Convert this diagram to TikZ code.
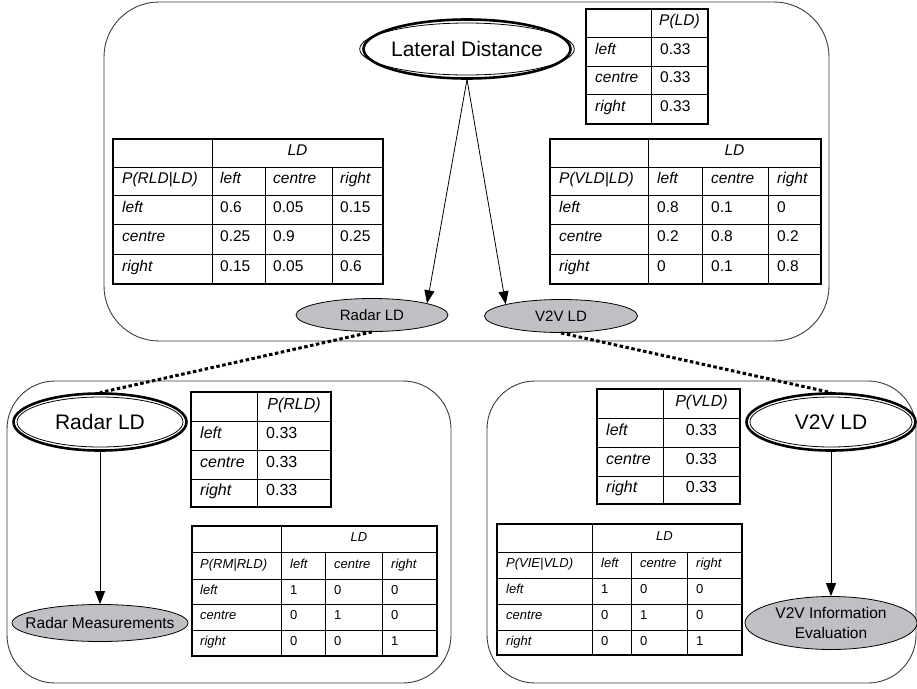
\documentclass[tikz,border=0pt]{standalone}
\usepackage{fontspec}
\setmainfont{Liberation Sans}
\usetikzlibrary{shapes.geometric,arrows.meta}
\definecolor{nodegray}{RGB}{192,192,196}
\definecolor{boxline}{RGB}{60,60,60}
\tikzset{
  panel/.style={draw=boxline, line width=0.9pt},
  bigvar/.style={ellipse, draw, line width=0.8pt, inner sep=0pt, font=\fontsize{21}{25}\selectfont},
  obsvar/.style={ellipse, draw, fill=nodegray, line width=0.8pt, inner sep=0pt},
  edge/.style={line width=0.8pt, -{Triangle[length=13pt,width=10pt]}},
  link/.style={line width=3pt, dash pattern=on 3.5pt off 2.5pt},
  outerring/.style={line width=2.6pt},
  gridline/.style={line width=0.7pt},
  frame/.style={line width=2.6pt},
  lab/.style={anchor=mid west, inner sep=0pt, font=\fontsize{#1}{#1}\selectfont\itshape},
  num/.style={anchor=mid west, inner sep=0pt, font=\fontsize{#1}{#1}\selectfont},
  labc/.style={anchor=mid, inner sep=0pt, font=\fontsize{#1}{#1}\selectfont\itshape},
  numc/.style={anchor=mid, inner sep=0pt, font=\fontsize{#1}{#1}\selectfont},
}
\begin{document}
\begin{tikzpicture}[x=1pt,y=-1pt]
\useasboundingbox (0,0) rectangle (917,688);

% panels
\draw[panel, rounded corners=55pt] (104,2) rectangle (829,341);
\draw[panel, rounded corners=48pt] (7,381) rectangle (451,683);
\draw[panel, rounded corners=48pt] (487,381) rectangle (916,683);

% ---------- T1 : P(LD)
\draw[gridline] (586,37) -- (708,37) (586,66) -- (708,66) (586,94) -- (708,94) (651,9) -- (651,124);
\draw[frame] (586,9) rectangle (708,124);
\node[lab=15.5] (a0) at (659,23) {P(LD)};
\foreach \yy/\t [count=\i] in {51.5/left, 80/centre, 109/right}{
  \node[lab=15.5] (a\i l) at (595,\yy) {\t};
  \node[num=15.5] (a\i v) at (660,\yy) {0.33};
}

% ---------- T2 : P(RLD|LD)
\draw[gridline] (113,167) -- (383,167) (113,195) -- (383,195) (113,224) -- (383,224) (113,254) -- (383,254)
  (212,139) -- (212,284) (265,167) -- (265,284) (332,167) -- (332,284);
\draw[frame] (113,139) rectangle (383,284);
\node[labc=15.5] (b0) at (297.5,153) {LD};
\foreach \xx/\t [count=\i] in {122/P(RLD|LD), 220/left, 273/centre, 340/right}
  \node[lab=15.5] (b1\i) at (\xx,181) {\t};
\node[lab=15.5] (b2l) at (122,209.5) {left};
\foreach \xx/\t [count=\i] in {220/0.6, 273/0.05, 340/0.15}
  \node[num=15.5] (b2\i) at (\xx,209.5) {\t};
\node[lab=15.5] (b3l) at (122,239) {centre};
\foreach \xx/\t [count=\i] in {220/0.25, 273/0.9, 340/0.25}
  \node[num=15.5] (b3\i) at (\xx,239) {\t};
\node[lab=15.5] (b4l) at (122,269) {right};
\foreach \xx/\t [count=\i] in {220/0.15, 273/0.05, 340/0.6}
  \node[num=15.5] (b4\i) at (\xx,269) {\t};

% ---------- T3 : P(VLD|LD)
\draw[gridline] (550,167) -- (821,167) (550,195) -- (821,195) (550,224) -- (821,224) (550,254) -- (821,254)
  (648,139) -- (648,284) (702,167) -- (702,284) (768,167) -- (768,284);
\draw[frame] (550,139) rectangle (821,284);
\node[labc=15.5] (c0) at (734.5,153) {LD};
\foreach \xx/\t [count=\i] in {559/P(VLD|LD), 657/left, 711/centre, 777/right}
  \node[lab=15.5] (c1\i) at (\xx,181) {\t};
\node[lab=15.5] (c2l) at (559,209.5) {left};
\foreach \xx/\t [count=\i] in {657/0.8, 711/0.1, 777/0}
  \node[num=15.5] (c2\i) at (\xx,209.5) {\t};
\node[lab=15.5] (c3l) at (559,239) {centre};
\foreach \xx/\t [count=\i] in {657/0.2, 711/0.8, 777/0.2}
  \node[num=15.5] (c3\i) at (\xx,239) {\t};
\node[lab=15.5] (c4l) at (559,269) {right};
\foreach \xx/\t [count=\i] in {657/0, 711/0.1, 777/0.8}
  \node[num=15.5] (c4\i) at (\xx,269) {\t};

% ---------- T4 : P(RLD)
\draw[gridline] (191,421) -- (331,421) (191,450) -- (331,450) (191,479) -- (331,479) (257,392) -- (257,507);
\draw[frame] (191,392) rectangle (331,507);
\node[labc=16] (d0) at (294,406.5) {P(RLD)};
\foreach \yy/\t [count=\i] in {435.5/left, 464.5/centre, 493/right}{
  \node[lab=16] (d\i l) at (200,\yy) {\t};
  \node[num=16] (d\i v) at (266,\yy) {0.33};
}

% ---------- T5 : P(RM|RLD)
\draw[gridline] (192,552) -- (437,552) (192,579) -- (437,579) (192,604) -- (437,604) (192,630) -- (437,630)
  (281,526) -- (281,656) (325,552) -- (325,656) (382,552) -- (382,656);
\draw[frame] (192,526) rectangle (437,656);
\node[labc=13] (e0) at (359,539) {LD};
\foreach \xx/\t [count=\i] in {200/P(RM|RLD), 290/left, 334/centre, 391/right}
  \node[lab=13] (e1\i) at (\xx,565.5) {\t};
\node[lab=13] (e2l) at (200,591.5) {left};
\foreach \xx/\t [count=\i] in {290/1, 334/0, 391/0}
  \node[num=13] (e2\i) at (\xx,591.5) {\t};
\node[lab=13] (e3l) at (200,617) {centre};
\foreach \xx/\t [count=\i] in {290/0, 334/1, 391/0}
  \node[num=13] (e3\i) at (\xx,617) {\t};
\node[lab=13] (e4l) at (200,643) {right};
\foreach \xx/\t [count=\i] in {290/0, 334/0, 391/1}
  \node[num=13] (e4\i) at (\xx,643) {\t};

% ---------- T6 : P(VLD)
\draw[gridline] (597,418) -- (740,418) (597,447) -- (740,447) (597,476) -- (740,476) (663,389) -- (663,504);
\draw[frame] (597,389) rectangle (740,504);
\node[labc=16] (f0) at (701.5,403.5) {P(VLD)};
\foreach \yy/\t [count=\i] in {432.5/left, 461.5/centre, 490/right}{
  \node[lab=16] (f\i l) at (606,\yy) {\t};
  \node[numc=16] (f\i v) at (701.5,\yy) {0.33};
}

% ---------- T7 : P(VIE|VLD)
\draw[gridline] (497,552) -- (742,552) (497,578) -- (742,578) (497,604) -- (742,604) (497,630) -- (742,630)
  (592,524) -- (592,655) (631,552) -- (631,655) (687,552) -- (687,655);
\draw[frame] (497,524) rectangle (742,655);
\node[labc=13] (g0) at (664.5,538) {LD};
\foreach \xx/\t [count=\i] in {506/P(VIE|VLD), 601/left, 640/centre, 696/right}
  \node[lab=13] (g1\i) at (\xx,565) {\t};
\node[lab=13] (g2l) at (506,591) {left};
\foreach \xx/\t [count=\i] in {601/1, 640/0, 696/0}
  \node[num=13] (g2\i) at (\xx,591) {\t};
\node[lab=13] (g3l) at (506,617) {centre};
\foreach \xx/\t [count=\i] in {601/0, 640/1, 696/0}
  \node[num=13] (g3\i) at (\xx,617) {\t};
\node[lab=13] (g4l) at (506,642.5) {right};
\foreach \xx/\t [count=\i] in {601/0, 640/0, 696/1}
  \node[num=13] (g4\i) at (\xx,642.5) {\t};

% ---------- nodes
\node[bigvar, minimum width=200pt, minimum height=52pt] (LD) at (467,49) {Lateral Distance};
\draw[outerring] (LD.center) ellipse [x radius=103.5pt, y radius=29.5pt];

\node[obsvar, minimum width=152pt, minimum height=33pt, font=\fontsize{15}{18}\selectfont] (rsmall) at (372,315) {Radar LD};
\node[obsvar, minimum width=153pt, minimum height=33pt, font=\fontsize{15}{18}\selectfont] (vsmall) at (561,316) {V2V LD};

\node[bigvar, minimum width=166pt, minimum height=50pt] (rbig) at (100,422) {Radar LD};
\draw[outerring] (rbig.center) ellipse [x radius=86.5pt, y radius=28.5pt];
\node[bigvar, minimum width=162pt, minimum height=50pt] (vbig) at (831,422) {V2V LD};
\draw[outerring] (vbig.center) ellipse [x radius=84.5pt, y radius=28.5pt];

\node[obsvar, minimum width=176pt, minimum height=37pt,
  label={[font=\fontsize{15.5}{19}\selectfont]center:Radar Measurements}] (rm) at (100,623) {};
\node[obsvar, minimum width=172pt, minimum height=53pt,
  label={[align=center, font=\fontsize{15.5}{20}\selectfont]center:V2V Information\\Evaluation}] (vie) at (831,623) {};

% ---------- connectors
\draw[edge] ([yshift=-4pt]LD.south) -- (rsmall.12);
\draw[edge] ([yshift=-4pt]LD.south) -- (vsmall.168);
\draw[edge] ([yshift=-4pt]rbig.south) -- (rm.north);
\draw[edge] ([yshift=-4pt]vbig.south) -- (vie.north);
\draw[link] (rsmall.south) -- ([yshift=4pt]rbig.north);
\draw[link] (vsmall.south) -- ([yshift=4pt]vbig.north);
\end{tikzpicture}
\end{document}
